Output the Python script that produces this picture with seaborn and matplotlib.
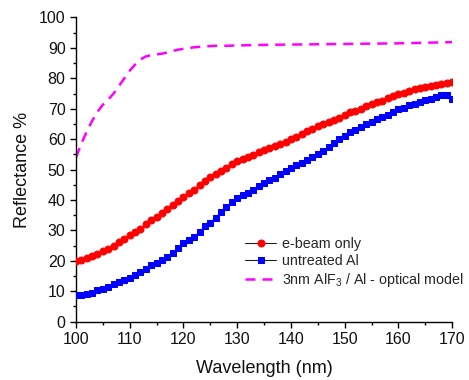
import matplotlib
matplotlib.use("Agg")
import matplotlib.pyplot as plt
import seaborn as sns
import pandas as pd
from matplotlib.ticker import MultipleLocator

sns.set_style("white")
plt.rcParams['font.family'] = ['Liberation Sans', 'DejaVu Sans']
plt.rcParams['mathtext.default'] = 'regular'

wl = list(range(100, 171))
ebeam = [20.0, 20.4, 20.9, 21.6, 22.3, 23.1, 23.9, 24.9, 26.1, 27.2,
         28.4, 29.5, 30.6, 32.1, 33.3, 34.5, 35.6, 36.9, 38.3, 39.8,
         41.0, 42.3, 43.3, 45.0, 46.4, 47.6, 48.6, 49.6, 50.6, 51.8,
         52.7, 53.4, 54.1, 54.8, 55.7, 56.5, 57.1, 57.7, 58.5, 59.2,
         60.0, 60.8, 61.7, 62.7, 63.5, 64.4, 65.0, 65.7, 66.3, 67.1,
         68.0, 68.8, 69.4, 70.0, 70.8, 71.5, 72.1, 72.7, 73.5, 74.2,
         74.8, 75.3, 75.9, 76.4, 76.8, 77.2, 77.5, 77.9, 78.2, 78.4,
         78.7]
untreated = [8.8, 8.9, 9.1, 9.3, 10.4, 10.8, 11.3, 12.3, 13.2, 13.7,
             14.4, 15.4, 16.3, 17.4, 18.6, 19.4, 20.3, 21.4, 22.7, 24.3,
             25.8, 26.7, 27.8, 29.6, 31.3, 32.6, 34.2, 36.0, 37.7, 39.4,
             40.7, 41.5, 42.2, 43.3, 44.5, 45.6, 46.5, 47.4, 48.5, 49.6,
             50.6, 51.5, 52.2, 53.2, 54.3, 55.2, 56.2, 57.4, 58.9, 60.0,
             60.9, 62.2, 63.1, 63.9, 64.9, 65.7, 66.6, 67.4, 68.1, 69.0,
             69.8, 70.3, 71.1, 71.6, 72.2, 72.8, 73.2, 73.8, 74.4, 74.4,
             73.2]
model_wl = [100, 101, 102, 103, 104, 105, 106, 107, 108, 109, 110, 111, 112,
            113, 114, 115, 116, 117, 118, 119, 120, 122, 124, 126, 128, 130,
            135, 140, 145, 150, 155, 160, 165, 170]
model = [54.0, 58.5, 62.5, 66.0, 69.0, 71.3, 73.0, 75.0, 77.5, 80.0, 82.5,
         84.5, 86.2, 87.2, 87.6, 87.9, 88.1, 88.5, 89.0, 89.4, 89.7, 90.2,
         90.5, 90.7, 90.7, 90.8, 91.0, 91.1, 91.2, 91.3, 91.4, 91.5, 91.7,
         91.9]

labels = ["e-beam only", "untreated Al", r"3nm AlF$_3$ / Al - optical model"]

df_e = pd.DataFrame({"wl": wl, "R": ebeam})
df_u = pd.DataFrame({"wl": wl, "R": untreated})
df_m = pd.DataFrame({"wl": model_wl, "R": model})

fig = plt.figure(figsize=(4.69, 3.80), dpi=100)
ax = fig.add_axes([0.162, 0.1534, 0.802, 0.8006])

sns.lineplot(data=df_e, x="wl", y="R", ax=ax, color="#222222", lw=0.8,
             marker="o", markersize=5, markerfacecolor="red",
             markeredgecolor="red", label=labels[0], zorder=3)
sns.lineplot(data=df_u, x="wl", y="R", ax=ax, color="#222222", lw=0.8,
             marker="s", markersize=4.4, markerfacecolor="blue",
             markeredgecolor="blue", label=labels[1], zorder=3)
sns.lineplot(data=df_m, x="wl", y="R", ax=ax, color="#ff00ff", lw=1.8,
             linestyle=(0, (4, 2.8)), label=labels[2], zorder=2)

ax.set_xlim(100, 170)
ax.set_ylim(0, 100)
ax.xaxis.set_major_locator(MultipleLocator(10))
ax.xaxis.set_minor_locator(MultipleLocator(5))
ax.yaxis.set_major_locator(MultipleLocator(10))
ax.yaxis.set_minor_locator(MultipleLocator(5))
ax.tick_params(which="major", direction="out", length=4, width=1,
               labelsize=11.5, color="black", labelcolor="#111111",
               bottom=True, left=True)
ax.tick_params(which="minor", direction="out", length=2.5, width=1,
               color="black", bottom=True, left=True)
for s in ["top", "right"]:
    ax.spines[s].set_visible(False)
for s in ["left", "bottom"]:
    ax.spines[s].set_color("black")
    ax.spines[s].set_linewidth(1)

ax.set_xlabel("Wavelength (nm)", fontsize=13, labelpad=9, color="#111111")
ax.set_ylabel("Reflectance %", fontsize=13, labelpad=6, color="#111111")

leg = ax.legend(loc="lower left", bbox_to_anchor=(0.43, 0.085), frameon=False,
                fontsize=10.3, handlelength=2.2, handletextpad=0.4,
                labelspacing=0.2, borderpad=0)

fig.savefig("out.png", dpi=100)
